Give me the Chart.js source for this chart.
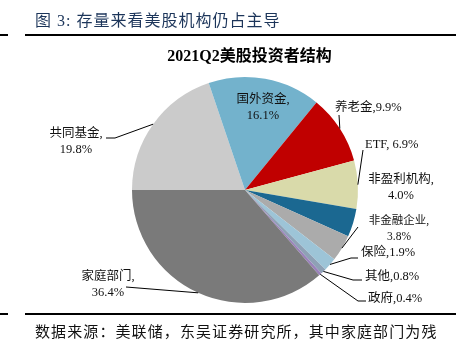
<!DOCTYPE html>
<html>
<head>
<meta charset="utf-8">
<script src="https://cdn.jsdelivr.net/npm/chart.js@4.4.1/dist/chart.umd.min.js"></script>
<style>
  html, body { margin:0; padding:0; background:#fff; }
  body { width:467px; height:354px; position:relative; overflow:hidden; }
  #wrap { position:absolute; left:0; top:0; width:467px; height:354px; }
  .txt { position:absolute; white-space:nowrap; font-family:'Liberation Serif','Noto Sans CJK SC',serif; }
  #figTitle { left:35px; top:10px; font-size:16px; line-height:22px; color:#1C355A; letter-spacing:1px; }
  #chartTitle { left:0; width:499px; text-align:center; top:46px; font-size:16px; line-height:20px; font-weight:bold; color:#000; letter-spacing:0px; }
  #footer { left:35px; top:321px; font-size:15px; line-height:22px; color:#111; letter-spacing:1.1px; }
  .rule { position:absolute; height:2px; background:#000; }
</style>
</head>
<body>
<div id="wrap"><canvas id="c" width="467" height="354"></canvas></div>
<div class="txt" id="figTitle">图 3: 存量来看美股机构仍占主导</div>
<div class="rule" style="left:0;top:34px;width:8px;"></div>
<div class="rule" style="left:25px;top:34px;width:431px;"></div>
<div class="txt" id="chartTitle">2021Q2美股投资者结构</div>
<div class="rule" style="left:0;top:313px;width:8px;"></div>
<div class="rule" style="left:25px;top:313px;width:431px;"></div>
<div class="txt" id="footer">数据来源：美联储，东吴证券研究所，其中家庭部门为残</div>
<script>
// ---- data ----
const categories = ['共同基金','国外资金','养老金','ETF','非盈利机构','非金融企业','保险','其他','政府','家庭部门'];
const shares = [19.8, 16.1, 9.9, 6.9, 4.0, 3.8, 1.9, 0.8, 0.4, 36.4];

// ---- styles ----
const sliceColors = ['#CBCBCB','#73B2CC','#C00000','#D9DAAA','#1B6891','#ABABAB','#9DC4D7','#8EA1B5','#9A82BA','#7A7A7A'];

// label layout (text anchors and leader elbows, page px)
const labelLayout = [
  {two:true,  x:76,  y:134, align:'center', path:[[115,138],[106,138]]},
  {two:true,  x:263, y:100, align:'center', path:null},
  {two:false, x:335, y:108, align:'left',   path:[[339,115]]},
  {two:false, x:365, y:145, align:'left',   path:[[363,150]]},
  {two:true,  x:401, y:180, align:'center', path:null},
  {two:true,  x:399, y:221, align:'center', path:[[358,227]], size:11.5},
  {two:false, x:361, y:253, align:'left',   path:[[351,258],[358,258]]},
  {two:false, x:365, y:277, align:'left',   path:[[353,280],[362,280]]},
  {two:false, x:368, y:299, align:'left',   path:[[358,301],[366,301]]},
  {two:true,  x:108, y:277, align:'center', path:[[126,287]]}
];

const outerLabels = {
  id:'outerLabels',
  afterDatasetsDraw(chart) {
    const ctx = chart.ctx;
    const meta = chart.getDatasetMeta(0);
    ctx.save();
    meta.data.forEach((arc, i) => {
      const L = labelLayout[i];
      const p = arc.getProps(['x','y','startAngle','endAngle','outerRadius'], true);
      const mid = (p.startAngle + p.endAngle) / 2;
      const ax = p.x + Math.cos(mid) * p.outerRadius;
      const ay = p.y + Math.sin(mid) * p.outerRadius;
      if (L.path) {
        ctx.beginPath();
        ctx.strokeStyle = '#000';
        ctx.lineWidth = 1;
        ctx.moveTo(ax, ay);
        L.path.forEach(pt => ctx.lineTo(pt[0], pt[1]));
        ctx.stroke();
      }
      const fs = L.size || 12.5;
      ctx.font = fs + "px 'Liberation Serif','Noto Sans CJK SC',serif";
      ctx.fillStyle = '#111';
      ctx.textAlign = L.align;
      ctx.textBaseline = 'middle';
      const cat = categories[i];
      const val = shares[i].toFixed(1) + '%';
      const latin = /^[A-Za-z]/.test(cat);
      if (L.two) {
        ctx.fillText(cat + ',', L.x, L.y);
        ctx.fillText(val, L.x, L.y + 15.5);
      } else {
        ctx.fillText(cat + (latin ? ', ' : ',') + val, L.x, L.y);
      }
    });
    ctx.restore();
  }
};

new Chart(document.getElementById('c'), {
  type: 'pie',
  data: {
    labels: categories,
    datasets: [{
      data: shares,
      backgroundColor: sliceColors,
      borderWidth: 0
    }]
  },
  options: {
    responsive: false,
    animation: false,
    events: [],
    rotation: -90,
    layout: { padding: { left:132, right:109, top:77, bottom:51 } },
    plugins: {
      legend: { display:false },
      tooltip: { enabled:false },
      title: { display:false }
    }
  },
  plugins: [outerLabels]
});
</script>
</body>
</html>
